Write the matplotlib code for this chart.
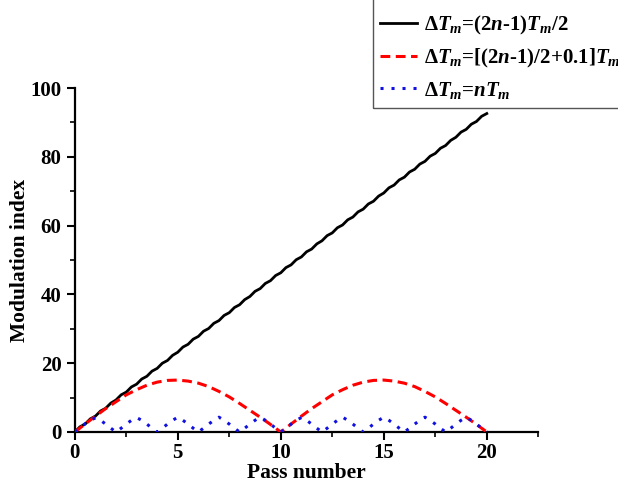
import numpy as np
import matplotlib
matplotlib.use("Agg")
import matplotlib.pyplot as plt
from matplotlib.patches import Rectangle
from matplotlib.ticker import MultipleLocator

plt.rcParams['font.family'] = ['Liberation Serif', 'DejaVu Serif']
plt.rcParams['font.weight'] = 'bold'
plt.rcParams['mathtext.fontset'] = 'custom'
plt.rcParams['mathtext.rm'] = 'Liberation Serif:bold'
plt.rcParams['mathtext.it'] = 'Liberation Serif:italic:bold'
plt.rcParams['mathtext.bf'] = 'Liberation Serif:bold'

# Sample positions along the pass axis
pass_quarter = np.arange(0, 20.001, 0.25)
pass_half = np.arange(0, 20.001, 0.5)

# Delay (2n-1)Tm/2: steady growth with a small ripple every half pass
mod_half_period = [
    0.0, 1.5, 2.3, 3.8, 4.6, 6.1, 6.9, 8.4, 9.3, 10.8,
    11.6, 13.1, 13.9, 15.4, 16.2, 17.7, 18.5, 20.0, 20.8, 22.3,
    23.2, 24.7, 25.5, 27.0, 27.8, 29.3, 30.1, 31.6, 32.4, 33.9,
    34.7, 36.2, 37.0, 38.5, 39.4, 40.9, 41.7, 43.2, 44.0, 45.5,
    46.3, 47.8, 48.6, 50.1, 50.9, 52.4, 53.2, 54.7, 55.6, 57.1,
    57.9, 59.4, 60.2, 61.7, 62.5, 64.0, 64.8, 66.3, 67.1, 68.6,
    69.5, 71.0, 71.8, 73.3, 74.1, 75.6, 76.4, 77.9, 78.7, 80.2,
    81.0, 82.5, 83.3, 84.8, 85.7, 87.2, 88.0, 89.5, 90.3, 91.8,
    92.6,
]

# Delay [(2n-1)/2+0.1]Tm
mod_offset = [
    0.0, 2.3, 4.6, 6.8, 8.8, 10.8, 12.3, 13.6, 14.5, 15.0,
    15.1, 14.8, 14.2, 13.2, 11.8, 10.2, 8.3, 6.3, 4.3, 2.2,
    0.0, 2.3, 4.6, 6.8, 8.8, 10.8, 12.3, 13.6, 14.5, 15.0,
    15.1, 14.8, 14.2, 13.2, 11.8, 10.2, 8.3, 6.3, 4.3, 2.2,
    0.0,
]

# Delay nTm
mod_full_period = [
    0.0, 1.2, 2.4, 3.4, 4.1, 3.4, 2.3, 1.1,
    0.0, 1.1, 2.3, 3.4, 4.2, 3.4, 2.3, 1.1,
    0.0, 1.1, 2.3, 3.4, 4.3, 3.4, 2.3, 1.1,
    0.0, 1.1, 2.3, 3.4, 4.3, 3.4, 2.3, 1.1,
    0.0, 1.1, 2.3, 3.4, 4.3, 3.4, 2.3, 1.1,
    0.0, 1.1, 2.3, 3.4, 4.2, 3.4, 2.3, 1.1,
    0.0, 1.1, 2.3, 3.4, 4.3, 3.4, 2.3, 1.1,
    0.0, 1.1, 2.3, 3.4, 4.3, 3.4, 2.3, 1.1,
    0.0, 1.1, 2.3, 3.4, 4.3, 3.4, 2.3, 1.1,
    0.0, 1.1, 2.3, 3.4, 4.3, 3.4, 2.3, 1.1,
    0.0,
]

labels = [
    r'$\Delta T_m$=(2$n$-1)$T_m$/2',
    r'$\Delta T_m$=[(2$n$-1)/2+0.1]$T_m$',
    r'$\Delta T_m$=$nT_m$',
]

fig = plt.figure(figsize=(6.18, 4.83), dpi=100)
ax = fig.add_axes([0.121, 0.1056, 0.75, 0.712])

l1, = ax.plot(pass_quarter, mod_half_period, color='black', lw=2.0,
              solid_joinstyle='round', zorder=3)
l2, = ax.plot(pass_half, mod_offset, color='red', lw=2.2,
              linestyle=(0, (3.2, 1.8)), zorder=4)
l3, = ax.plot(pass_quarter, mod_full_period, color='#1010e0', lw=2.2,
              linestyle=(0, (1, 2.6)), zorder=5)

ax.set_xlim(0, 22.5)
ax.set_ylim(0, 100)
ax.xaxis.set_major_locator(MultipleLocator(5))
ax.xaxis.set_minor_locator(MultipleLocator(2.5))
ax.yaxis.set_major_locator(MultipleLocator(20))
ax.yaxis.set_minor_locator(MultipleLocator(10))
ax.tick_params(which='major', direction='out', length=6, width=1.5,
               labelsize=15)
ax.tick_params(axis='x', which='major', pad=2)
ax.tick_params(which='minor', direction='out', length=3.5, width=1.2)
for side in ('top', 'right'):
    ax.spines[side].set_visible(False)
for side in ('left', 'bottom'):
    ax.spines[side].set_linewidth(1.6)
for lab in ax.get_xticklabels() + ax.get_yticklabels():
    lab.set_fontweight('bold')

ax.set_xlabel('Pass number', fontsize=15.5, fontweight='bold', labelpad=0)
ax.set_ylabel('Modulation index', fontsize=15.5, fontweight='bold', labelpad=0)

leg = fig.legend([l1, l2, l3], labels, loc='lower left',
                 bbox_to_anchor=(0.603, 1 - 108 / 483), fontsize=15,
                 frameon=True, fancybox=False, borderpad=0.35,
                 labelspacing=0.48, handlelength=1.8, handletextpad=0.3,
                 borderaxespad=0)
leg.get_frame().set_edgecolor('none')

# Legend border running up past the top edge of the figure
fig.canvas.draw()
bb = leg.get_window_extent().transformed(fig.transFigure.inverted())
fig.add_artist(Rectangle((bb.x0, bb.y0), 1.2 - bb.x0, 1.2 - bb.y0,
                         transform=fig.transFigure, fill=False,
                         edgecolor='#555555', linewidth=1.0, zorder=6,
                         clip_on=False))

fig.savefig('out.png', dpi=100)
